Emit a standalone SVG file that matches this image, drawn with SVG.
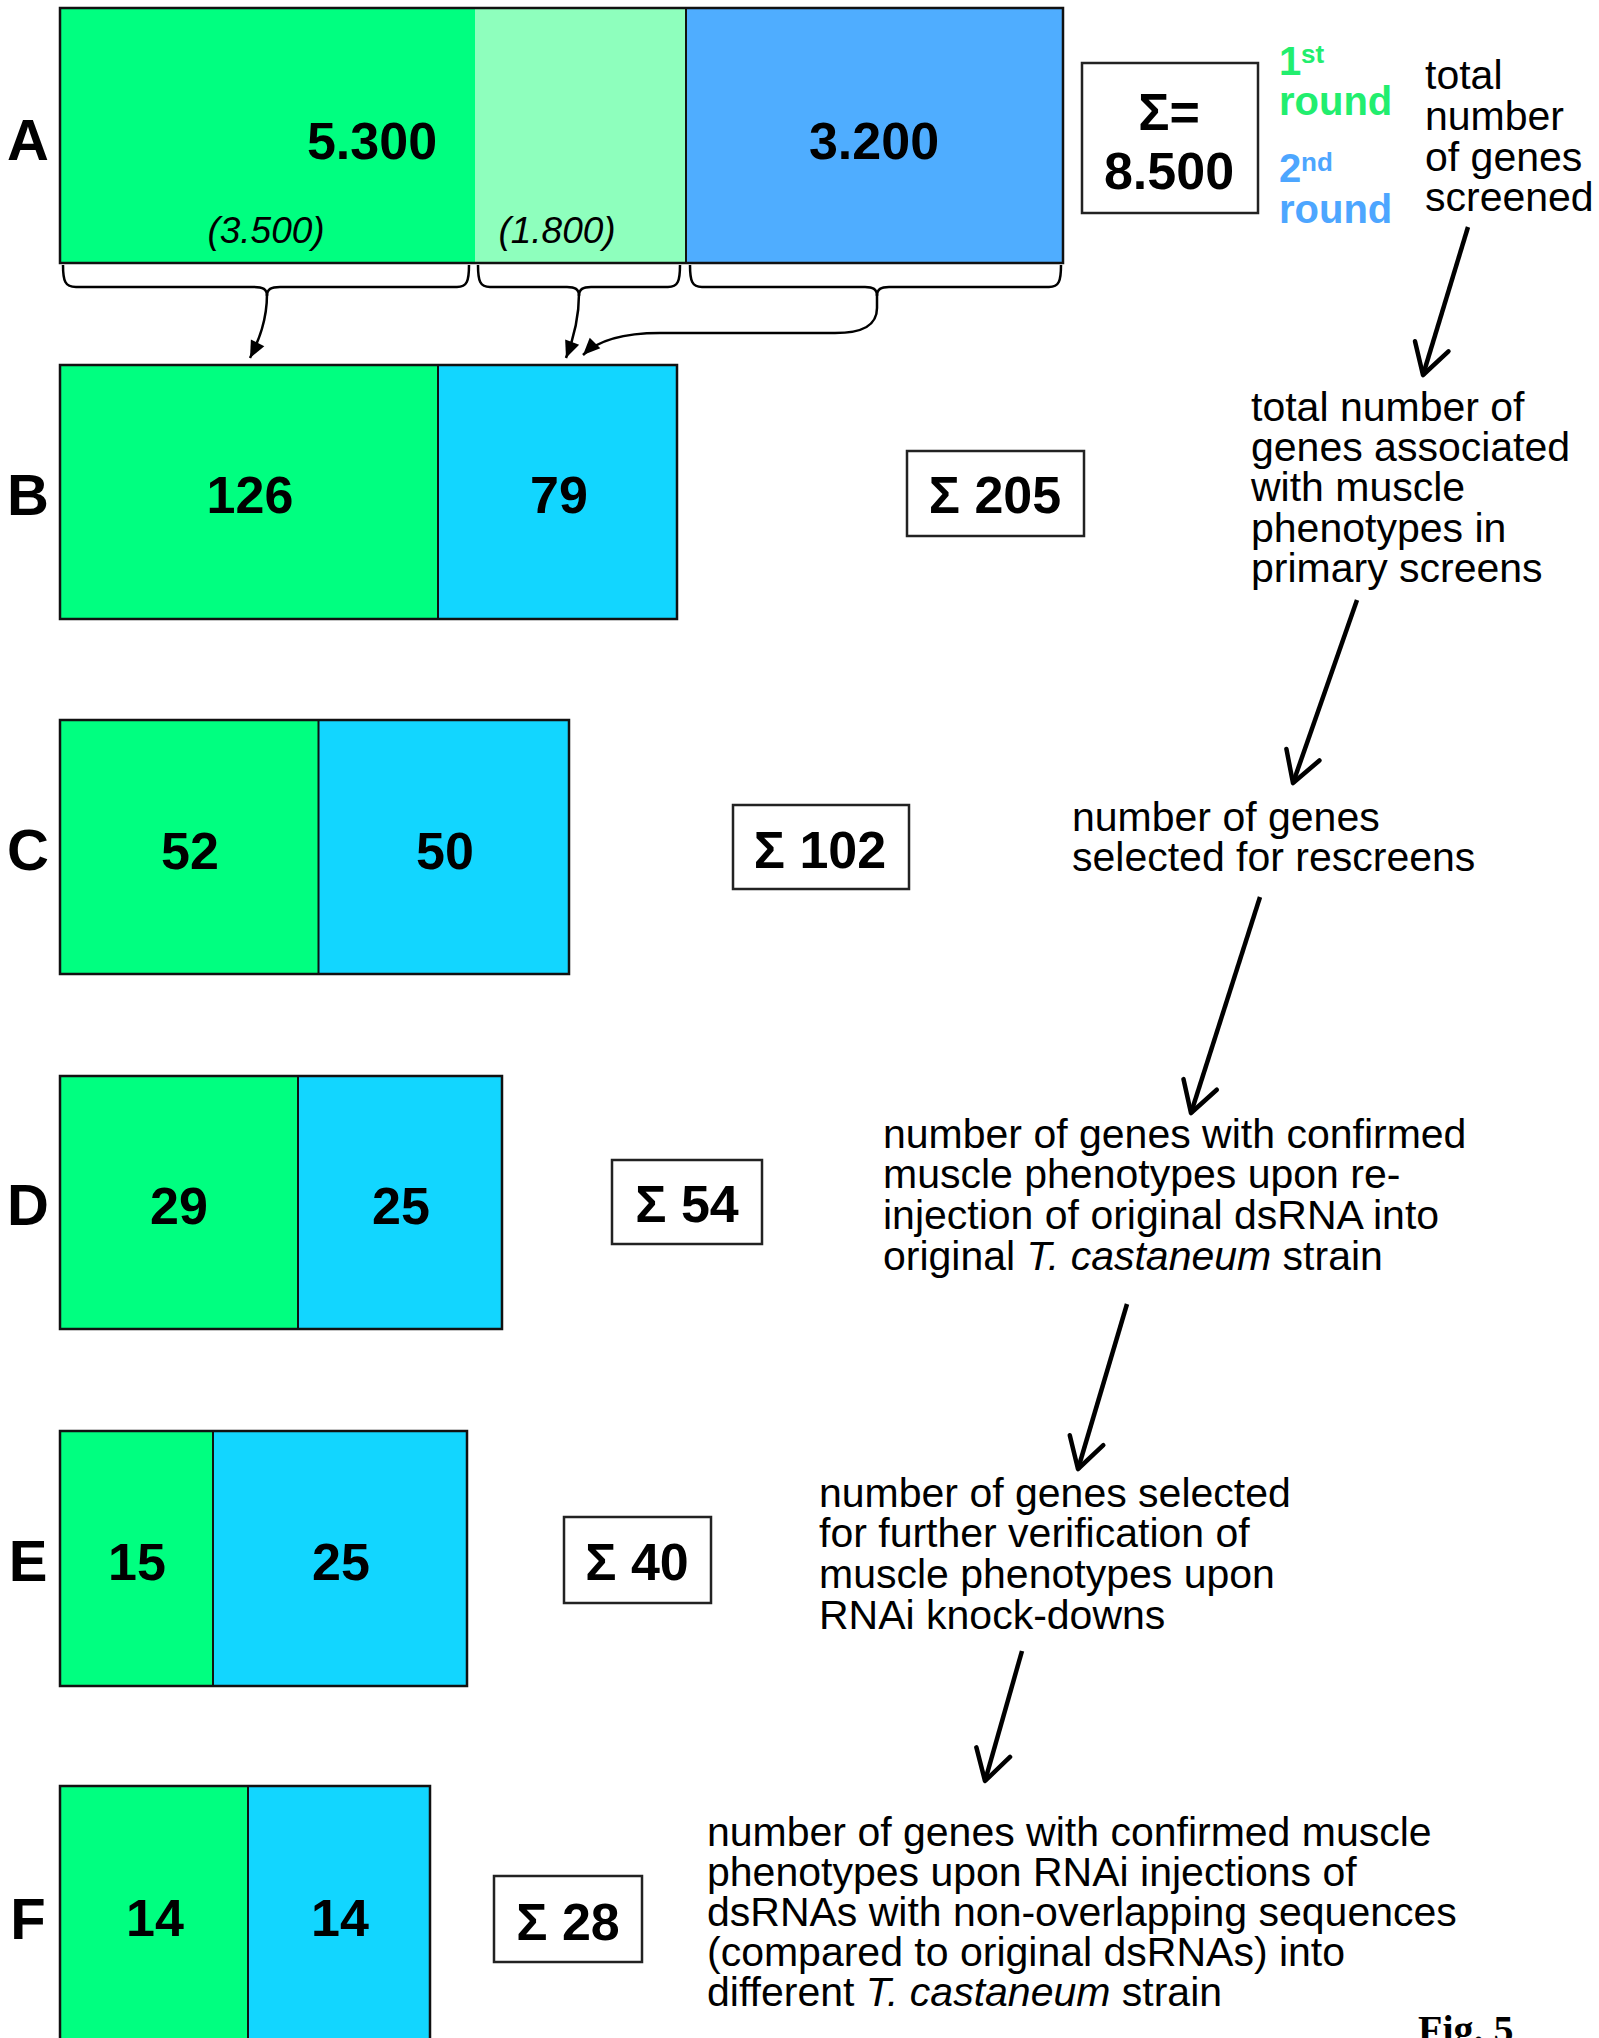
<svg xmlns="http://www.w3.org/2000/svg" width="1599" height="2038" viewBox="0 0 1599 2038">
<defs>
<style>
text{font-family:"Liberation Sans",Arial,sans-serif;fill:#000}
.num{font-size:52px;font-weight:bold;text-anchor:middle}
.lbl{font-size:58px;font-weight:bold;text-anchor:middle}
.par{font-size:37px;font-style:italic;text-anchor:middle}
.desc{font-size:41px}
.rnd{font-size:40px;font-weight:bold}
.sup{font-size:26px;font-weight:bold}
.g{fill:#00ff80}
.lg{fill:#8effbd}
.b{fill:#4fadff}
.c{fill:#12d6ff}
.frame{fill:none;stroke:#111;stroke-width:2.5}
.div{stroke:#111;stroke-width:2}
.box{fill:#fff;stroke:#222;stroke-width:2.5}
.brace{fill:none;stroke:#000;stroke-width:2.5}
.small{fill:none;stroke:#000;stroke-width:2.5}
.big{fill:none;stroke:#000;stroke-width:4.5}
</style>
<marker id="tri" markerUnits="userSpaceOnUse" markerWidth="20" markerHeight="20" viewBox="-18 -10 20 20" refX="0" refY="0" orient="auto">
<path d="M0,0 L-17,-7.5 L-17,7.5 Z" fill="#000"/>
</marker>
<marker id="vee" markerUnits="userSpaceOnUse" markerWidth="44" markerHeight="44" viewBox="-36 -22 40 44" refX="0" refY="0" orient="auto">
<path d="M-30,-17.5 L0,0 L-30,17.5" fill="none" stroke="#000" stroke-width="4.5" stroke-linejoin="round" stroke-linecap="round"/>
</marker>
</defs>
<rect width="1599" height="2038" fill="#fff"/>

<g id="row-A">
<text class="lbl" x="28" y="160">A</text>
<rect class="g" x="60" y="8" width="415" height="255"/>
<rect class="lg" x="475" y="8" width="211" height="255"/>
<rect class="b" x="686" y="8" width="377" height="255"/>
<line class="div" x1="686" y1="8" x2="686" y2="263"/>
<rect class="frame" x="60" y="8" width="1003" height="255"/>
<text class="num" x="372" y="159">5.300</text>
<text class="num" x="874" y="159">3.200</text>
<text class="par" x="266" y="243">(3.500)</text>
<text class="par" x="557" y="243">(1.800)</text>
</g>

<g id="sum-A">
<rect class="box" x="1082" y="63" width="176" height="150"/>
<text class="num" x="1169" y="130">Σ=</text>
<text class="num" x="1169" y="189">8.500</text>
</g>

<g id="legend">
<text class="rnd" x="1279" y="75" style="fill:#22ee6e">1</text>
<text class="sup" x="1301" y="63" style="fill:#22ee6e">st</text>
<text class="rnd" x="1279" y="115" style="fill:#22ee6e">round</text>
<text class="rnd" x="1279" y="182" style="fill:#4da6ff">2</text>
<text class="sup" x="1301" y="171" style="fill:#4da6ff">nd</text>
<text class="rnd" x="1279" y="223" style="fill:#4da6ff">round</text>
</g>

<g id="text-A">
<text class="desc" x="1425" y="89">total</text>
<text class="desc" x="1425" y="130">number</text>
<text class="desc" x="1425" y="171">of genes</text>
<text class="desc" x="1425" y="211">screened</text>
</g>

<g id="row-B">
<text class="lbl" x="28" y="515">B</text>
<rect class="g" x="60" y="365" width="378" height="254"/>
<rect class="c" x="438" y="365" width="239" height="254"/>
<line class="div" x1="438" y1="365" x2="438" y2="619"/>
<rect class="frame" x="60" y="365" width="617" height="254"/>
<text class="num" x="250" y="513">126</text>
<text class="num" x="559" y="513">79</text>
</g>
<g id="sum-B">
<rect class="box" x="907" y="451" width="177" height="85"/>
<text class="num" x="995" y="513">Σ 205</text>
</g>
<g id="text-B">
<text class="desc" x="1251" y="421">total number of</text>
<text class="desc" x="1251" y="461">genes associated</text>
<text class="desc" x="1251" y="501">with muscle</text>
<text class="desc" x="1251" y="542">phenotypes in</text>
<text class="desc" x="1251" y="582">primary screens</text>
</g>

<g id="row-C">
<text class="lbl" x="28" y="870">C</text>
<rect class="g" x="60" y="720" width="258.5" height="254"/>
<rect class="c" x="318.5" y="720" width="250.5" height="254"/>
<line class="div" x1="318.5" y1="720" x2="318.5" y2="974"/>
<rect class="frame" x="60" y="720" width="509" height="254"/>
<text class="num" x="190" y="869">52</text>
<text class="num" x="445" y="869">50</text>
</g>
<g id="sum-C">
<rect class="box" x="733" y="805" width="176" height="84"/>
<text class="num" x="820" y="868">Σ 102</text>
</g>
<g id="text-C">
<text class="desc" x="1072" y="831">number of genes</text>
<text class="desc" x="1072" y="871">selected for rescreens</text>
</g>

<g id="row-D">
<text class="lbl" x="28" y="1225">D</text>
<rect class="g" x="60" y="1076" width="238" height="253"/>
<rect class="c" x="298" y="1076" width="204" height="253"/>
<line class="div" x1="298" y1="1076" x2="298" y2="1329"/>
<rect class="frame" x="60" y="1076" width="442" height="253"/>
<text class="num" x="179" y="1224">29</text>
<text class="num" x="401" y="1224">25</text>
</g>
<g id="sum-D">
<rect class="box" x="612" y="1160" width="150" height="84"/>
<text class="num" x="687" y="1222">Σ 54</text>
</g>
<g id="text-D">
<text class="desc" x="883" y="1148">number of genes with confirmed</text>
<text class="desc" x="883" y="1188">muscle phenotypes upon re-</text>
<text class="desc" x="883" y="1229">injection of original dsRNA into</text>
<text class="desc" x="883" y="1270">original <tspan font-style="italic">T. castaneum</tspan> strain</text>
</g>

<g id="row-E">
<text class="lbl" x="28" y="1581">E</text>
<rect class="g" x="60" y="1431" width="153" height="255"/>
<rect class="c" x="213" y="1431" width="254" height="255"/>
<line class="div" x1="213" y1="1431" x2="213" y2="1686"/>
<rect class="frame" x="60" y="1431" width="407" height="255"/>
<text class="num" x="137" y="1580">15</text>
<text class="num" x="341" y="1580">25</text>
</g>
<g id="sum-E">
<rect class="box" x="564" y="1517" width="147" height="86"/>
<text class="num" x="637" y="1580">Σ 40</text>
</g>
<g id="text-E">
<text class="desc" x="819" y="1507">number of genes selected</text>
<text class="desc" x="819" y="1547">for further verification of</text>
<text class="desc" x="819" y="1588">muscle phenotypes upon</text>
<text class="desc" x="819" y="1629">RNAi knock-downs</text>
</g>

<g id="row-F">
<text class="lbl" x="28" y="1939">F</text>
<rect class="g" x="60" y="1786" width="188" height="262"/>
<rect class="c" x="248" y="1786" width="182" height="262"/>
<line class="div" x1="248" y1="1786" x2="248" y2="2048"/>
<rect class="frame" x="60" y="1786" width="370" height="262"/>
<text class="num" x="155" y="1936">14</text>
<text class="num" x="340" y="1936">14</text>
</g>
<g id="sum-F">
<rect class="box" x="494" y="1876" width="148" height="86"/>
<text class="num" x="568" y="1940">Σ 28</text>
</g>
<g id="text-F">
<text class="desc" x="707" y="1846">number of genes with confirmed muscle</text>
<text class="desc" x="707" y="1886">phenotypes upon RNAi injections of</text>
<text class="desc" x="707" y="1926">dsRNAs with non-overlapping sequences</text>
<text class="desc" x="707" y="1966">(compared to original dsRNAs) into</text>
<text class="desc" x="707" y="2006">different <tspan font-style="italic">T. castaneum</tspan> strain</text>
</g>

<g id="caption">
<text x="1418" y="2043" style="font-family:'Liberation Serif','Times New Roman',serif;font-weight:bold;font-size:40px">Fig. 5</text>
</g>

<g id="connectors">
<path class="brace" d="M63,265 C63,281 65,287 76,287 H254 C263,287 267,289 267,296 C267,289 271,287 280,287 H457 C467,287 469,281 469,265"/>
<path class="brace" d="M478,265 C478,281 480,287 490,287 H567 C575,287 579,289 579,296 C579,289 583,287 591,287 H668 C678,287 680,281 680,265"/>
<path class="brace" d="M690,265 C690,281 692,287 702,287 H865 C873,287 877,289 877,296 C877,289 881,287 889,287 H1049 C1059,287 1061,281 1061,265"/>
<path class="small" marker-end="url(#tri)" d="M267,294 C267,320 259,340 250,358"/>
<path class="small" marker-end="url(#tri)" d="M579,294 C579,320 573,340 566,358"/>
<path class="small" marker-end="url(#tri)" d="M877,294 V308 C877,326 862,333 835,333 H660 C625,333 598,340 583,355"/>
<path class="big" marker-end="url(#vee)" d="M1468,227 L1423,375"/>
<path class="big" marker-end="url(#vee)" d="M1357,600 L1293,783"/>
<path class="big" marker-end="url(#vee)" d="M1260,897 L1191,1113"/>
<path class="big" marker-end="url(#vee)" d="M1127,1304 L1078,1469"/>
<path class="big" marker-end="url(#vee)" d="M1022,1651 L985,1781"/>
</g>
</svg>
